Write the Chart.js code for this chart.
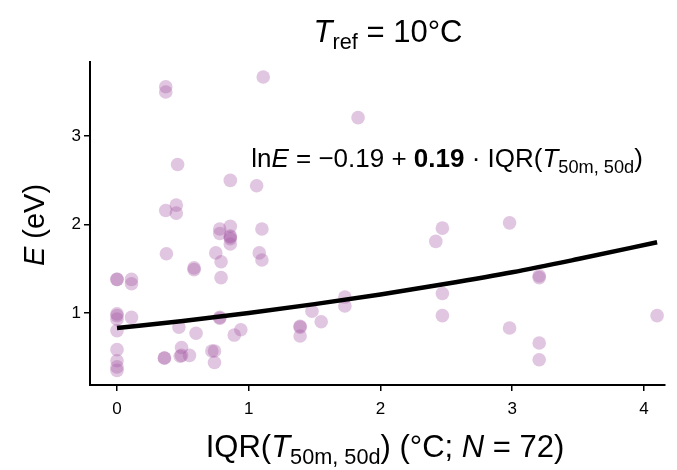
<!DOCTYPE html>
<html><head><meta charset="utf-8">
<script src="https://cdn.jsdelivr.net/npm/chart.js@4/dist/chart.umd.min.js"></script>
<style>html,body{margin:0;padding:0;background:#fff}#wrap{width:677px;height:470px}</style>
</head><body><div id="wrap"><canvas id="c" width="677" height="470"></canvas></div>
<script>
// Data
const iqrValues = [0.37,0.37,1.11,1.83,0.46,0.86,1.06,0.45,0.37,0.45,
  0.78,0.78,0.86,0.86,0.86,0.86,1.10,0.375,0.75,0.79,
  1.08,1.10,0.585,0.585,0.79,0,0,0.11,0.11,0,
  0,0.11,0,0.47,0.60,0.78,0.78,0.89,0.94,0,
  0,0,0,0.36,0.36,0.49,0.48,0.55,0.72,0.74,
  0.74,1.39,1.39,1.39,1.48,1.55,1.73,1.73,2.42,2.47,
  2.47,2.47,2.98,2.98,3.205,3.205,3.205,3.205,4.10,0.86,
  0.49,0];
const energyValues = [3.56,3.50,3.67,3.21,2.68,2.50,2.44,2.22,2.16,2.13,
  1.95,1.90,1.98,1.87,1.84,1.78,1.95,1.67,1.68,1.58,
  1.68,1.60,1.51,1.49,1.40,1.38,1.38,1.38,1.33,0.99,
  0.93,0.95,0.80,0.84,0.77,0.95,0.94,0.75,0.81,0.585,
  0.46,0.39,0.35,0.49,0.49,0.61,0.51,0.52,0.57,0.57,
  0.44,0.85,0.84,0.74,1.02,0.90,1.18,1.08,1.81,1.96,
  1.22,0.97,2.02,0.83,1.42,1.40,0.66,0.47,0.97,1.86,
  0.52,0.97];
// Fitted curve
const fitX = [0,0.5,1,1.5,2,2.5,3,3.5,4.1];
const fitY = [0.83,0.91,1.00,1.10,1.21,1.33,1.46,1.61,1.80];
const xTicks = [0,1,2,3,4];
const yTicks = [1,2,3];

const FONT = "'Liberation Sans', Arial, sans-serif";
const points = iqrValues.map((x,i)=>({x:x,y:energyValues[i]}));
const curve = fitX.map((x,i)=>({x:x,y:fitY[i]}));

function richText(ctx, segs, size, cx, cy, rotate){
  ctx.save();
  ctx.translate(cx, cy);
  if (rotate) ctx.rotate(-Math.PI/2);
  ctx.textBaseline = 'alphabetic';
  ctx.fillStyle = '#000';
  const fontFor = s => {
    const sz = s.sub ? size*0.7 : size;
    const st = s.st === 'i' ? 'italic ' : '';
    const wt = s.st === 'b' ? 'bold ' : '';
    return st + wt + sz + 'px ' + FONT;
  };
  let total = 0;
  segs.forEach(s=>{ ctx.font = fontFor(s); total += ctx.measureText(s.t).width + (s.kern||0); });
  let x = -total/2;
  segs.forEach(s=>{
    ctx.font = fontFor(s);
    ctx.fillText(s.t, x, s.sub ? size*0.22 : 0);
    x += ctx.measureText(s.t).width + (s.kern||0);
  });
  ctx.restore();
}

const textPlugin = {
  id: 'texts',
  afterDraw(chart){
    const ctx = chart.ctx;
    richText(ctx, [{t:'T',st:'i'},{t:'ref',sub:true},{t:' = 10°C'}], 31, 388, 42);
    richText(ctx, [{t:'ln'},{t:'E',st:'i'},{t:' = \u22120.19 + '},{t:'0.19',st:'b'},{t:' \u00b7 IQR('},{t:'T',st:'i'},{t:'50m, 50d',sub:true},{t:')'}], 26, 447, 167);
    richText(ctx, [{t:'IQR('},{t:'T',st:'i'},{t:'50m, 50d',sub:true},{t:') (°C; '},{t:'N',st:'i'},{t:' = 72)'}], 31, 385, 457);
    richText(ctx, [{t:'E',st:'i'},{t:' (eV)'}], 29, 44, 225, true);
  }
};

new Chart(document.getElementById('c'), {
  type: 'scatter',
  data: {
    datasets: [
      { data: points, backgroundColor: 'rgba(166,92,166,0.35)', borderWidth: 0, pointRadius: 6.8, pointHoverRadius: 6.8, order: 2 },
      { type: 'line', data: curve, borderColor: '#000', borderWidth: 4.5, pointRadius: 0, fill: false, tension: 0.4, cubicInterpolationMode: 'monotone', order: 1 }
    ]
  },
  options: {
    responsive: false,
    animation: false,
    events: [],
    layout: { padding: { top: 62, right: 12, left: 0, bottom: 0 } },
    plugins: { legend: { display: false }, tooltip: { enabled: false }, title: { display: false } },
    scales: {
      x: {
        type: 'linear', min: -0.205, max: 4.16,
        afterBuildTicks: s => { s.ticks = xTicks.map(v=>({value:v})); },
        afterFit: s => { s.height = 85; },
        grid: { display: true, drawOnChartArea: false, drawTicks: true, tickLength: 6, color: '#000', lineWidth: 1.5 },
        border: { display: true, color: '#000', width: 2 },
        ticks: { color: '#000', font: { family: FONT, size: 17 }, padding: 8, maxRotation: 0 }
      },
      y: {
        type: 'linear', min: 0.185, max: 3.84,
        afterBuildTicks: s => { s.ticks = yTicks.map(v=>({value:v})); },
        afterFit: s => { s.width = 90; },
        grid: { display: true, drawOnChartArea: false, drawTicks: true, tickLength: 6, color: '#000', lineWidth: 1.5 },
        border: { display: true, color: '#000', width: 2 },
        ticks: { color: '#000', font: { family: FONT, size: 17 }, padding: 3 }
      }
    }
  },
  plugins: [textPlugin]
});
</script></body></html>
